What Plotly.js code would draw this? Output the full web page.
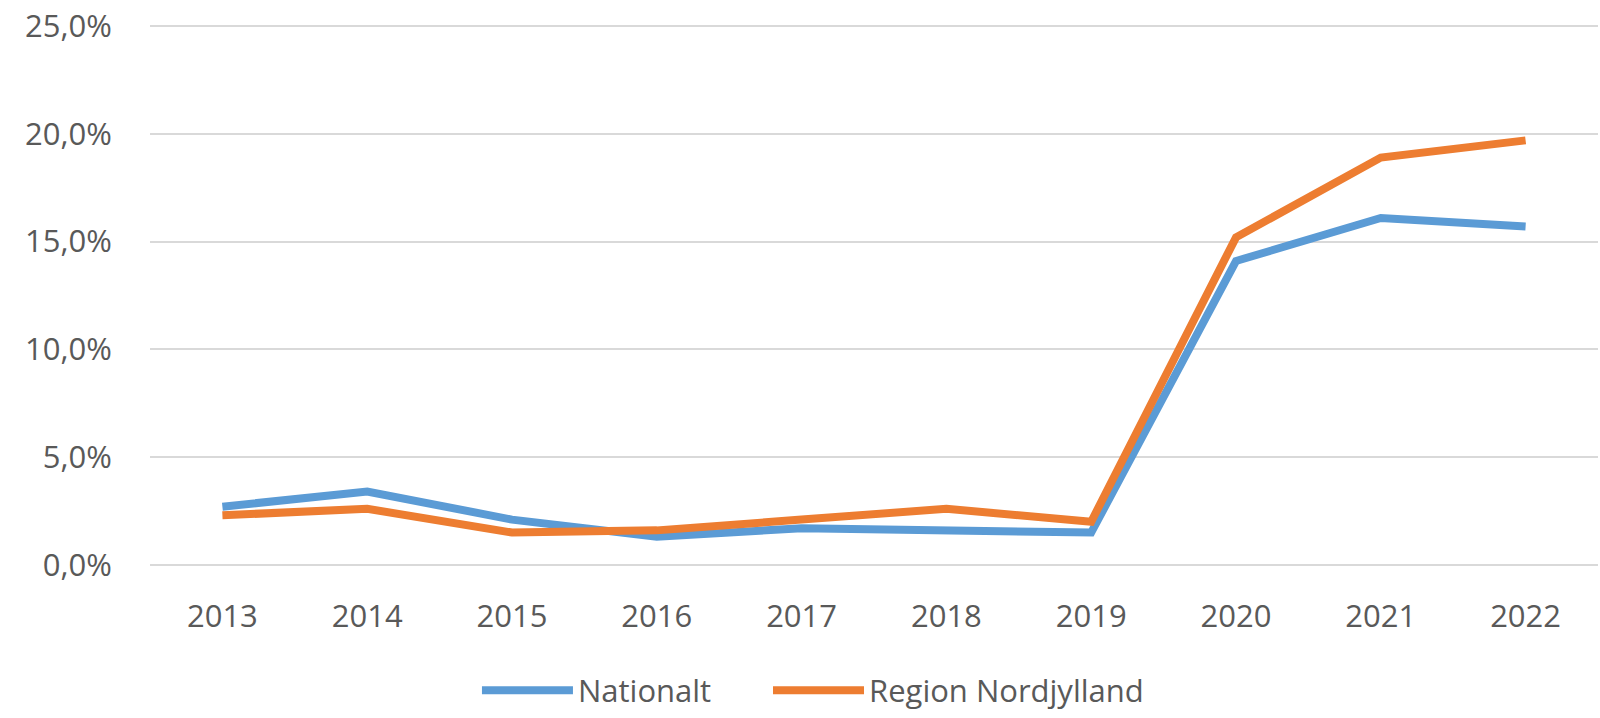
<!DOCTYPE html>
<html>
<head>
<meta charset="utf-8">
<script src="https://cdn.plot.ly/plotly-3.0.1.min.js"></script>
<style>html,body{margin:0;padding:0;background:#fff;}#chart{width:1600px;height:718px;}</style>
</head>
<body>
<div id="chart"></div>
<script>
const years = ["2013","2014","2015","2016","2017","2018","2019","2020","2021","2022"];
const nationalt = [2.7, 3.4, 2.1, 1.3, 1.7, 1.6, 1.5, 14.1, 16.1, 15.7];
const nordjylland = [2.3, 2.6, 1.5, 1.6, 2.1, 2.6, 2.0, 15.2, 18.9, 19.7];
const seriesNames = ["Nationalt", "Region Nordjylland"];
const yTicks = [0, 5, 10, 15, 20, 25];
const yTickLabels = ["0,0%", "5,0%", "10,0%", "15,0%", "20,0%", "25,0%"];

const font = {family: "Open Sans, Noto Sans, sans-serif", size: 31, color: "#595959"};

const traces = [
  {x: years, y: nationalt, name: seriesNames[0], type: "scatter", mode: "lines",
   line: {color: "#5B9BD5", width: 8}, hoverinfo: "none", legend: "legend"},
  {x: years, y: nordjylland, name: seriesNames[1], type: "scatter", mode: "lines",
   line: {color: "#ED7D31", width: 8}, hoverinfo: "none", legend: "legend2"}
];

const legendBase = {orientation: "h", xanchor: "left", y: -0.2775, yanchor: "bottom",
                    font: font, itemwidth: 91, bgcolor: "rgba(0,0,0,0)"};

const layout = {
  width: 1600, height: 718,
  margin: {l: 150, r: 2, t: 24, b: 151, autoexpand: false},
  paper_bgcolor: "#fff", plot_bgcolor: "#fff",
  font: font,
  showlegend: true,
  legend: Object.assign({}, legendBase, {x: 0.2258}),
  legend2: Object.assign({}, legendBase, {x: 0.4268}),
  xaxis: {type: "category", range: [-0.5, 9.5], showgrid: false, zeroline: false,
          showline: false, ticks: "outside", ticklen: 22, tickcolor: "rgba(0,0,0,0)",
          tickfont: font, fixedrange: true},
  yaxis: {range: [-0.1, 25.1], tickvals: yTicks, ticktext: yTickLabels,
          showgrid: true, gridcolor: "#D9D9D9", gridwidth: 2, zeroline: false,
          showline: false, ticks: "outside", ticklen: 31, tickcolor: "rgba(0,0,0,0)",
          tickfont: font, fixedrange: true}
};

Plotly.newPlot("chart", traces, layout, {staticPlot: true, displayModeBar: false});
</script>
</body>
</html>
